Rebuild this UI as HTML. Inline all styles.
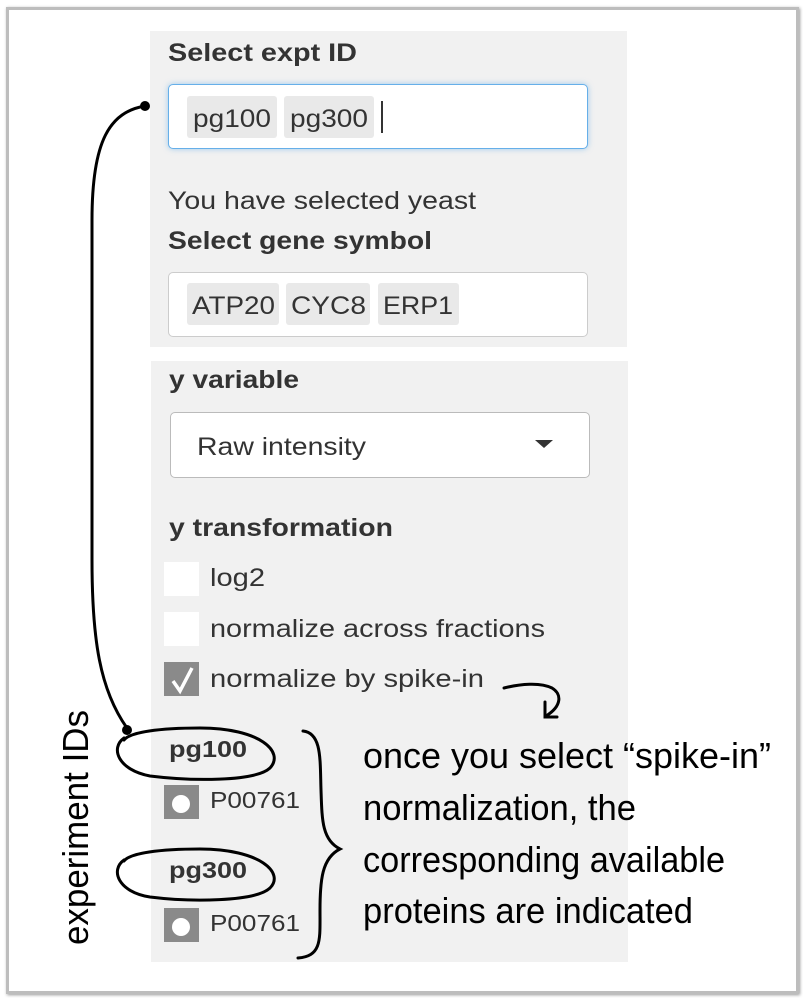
<!DOCTYPE html>
<html><head><style>
body{margin:0;width:803px;height:998px;background:#fff;position:relative;overflow:hidden;font-family:"Liberation Sans",Arial,sans-serif;color:#333}
.a{position:absolute}
.frame{left:6px;top:7px;width:787px;height:981px;border:3px solid #bdbdbd;box-shadow:1px 1px 3px #999}
.panel{background:#f1f1f1}
.inp{background:#fff;border:1px solid #ccc;border-radius:5px;box-sizing:border-box}
.tag{background:#e9e9e9;border-radius:3px}
.cb{width:35px;height:34px;background:#fff}
</style></head><body>
<div class="a frame"></div>
<div class="a panel" style="left:150px;top:31px;width:477px;height:316px"></div>
<div class="a panel" style="left:151px;top:361px;width:477px;height:601px"></div>

<div class="a inp" style="left:168px;top:84px;width:420px;height:65px;border:1px solid #66afe9;box-shadow:0 0 6px rgba(102,175,233,.6)"></div>
<div class="a tag" style="left:187px;top:96px;width:90px;height:42px"></div>
<div class="a tag" style="left:284px;top:96px;width:90px;height:42px"></div>
<div class="a" style="left:381px;top:101px;width:2px;height:32px;background:#333"></div>

<div class="a inp" style="left:168px;top:272px;width:420px;height:65px"></div>
<div class="a tag" style="left:187px;top:283px;width:92px;height:42px"></div>
<div class="a tag" style="left:286px;top:283px;width:84px;height:42px"></div>
<div class="a tag" style="left:378px;top:283px;width:81px;height:42px"></div>

<div class="a inp" style="left:170px;top:412px;width:420px;height:66px;border-color:#bbb"></div>
<div class="a" style="left:535px;top:440px;width:0;height:0;border-left:9px solid transparent;border-right:9px solid transparent;border-top:8px solid #333"></div>

<div class="a cb" style="left:164px;top:562px"></div>
<div class="a cb" style="left:164px;top:612px"></div>
<div class="a cb" style="left:164px;top:662px;background:#8a8a8a"></div>
<svg class="a" style="left:164px;top:662px" width="35" height="34"><path d="M9 19 L16 29 L28 6" stroke="#fff" stroke-width="3.5" fill="none"/></svg>
<div class="a cb" style="left:164px;top:785px;background:#8a8a8a"></div>
<div class="a" style="left:172px;top:795px;width:18px;height:18px;border-radius:50%;background:#fff"></div>
<div class="a cb" style="left:164px;top:908px;background:#8a8a8a"></div>
<div class="a" style="left:172px;top:918px;width:18px;height:18px;border-radius:50%;background:#fff"></div>

<svg class="a" style="left:0;top:0" width="803" height="998">
<g font-family="'Liberation Sans',Arial,sans-serif" fill="#333" font-size="25" lengthAdjust="spacingAndGlyphs">
<text x="168" y="61" font-weight="bold" textLength="189" lengthAdjust="spacingAndGlyphs">Select expt ID</text>
<text x="193" y="127" textLength="78" lengthAdjust="spacingAndGlyphs">pg100</text>
<text x="290" y="127" textLength="78" lengthAdjust="spacingAndGlyphs">pg300</text>
<text x="168" y="209" textLength="308" lengthAdjust="spacingAndGlyphs">You have selected yeast</text>
<text x="168" y="249" font-weight="bold" textLength="264" lengthAdjust="spacingAndGlyphs">Select gene symbol</text>
<text x="192" y="314" textLength="83" lengthAdjust="spacingAndGlyphs">ATP20</text>
<text x="291" y="314" textLength="75" lengthAdjust="spacingAndGlyphs">CYC8</text>
<text x="383" y="314" textLength="70" lengthAdjust="spacingAndGlyphs">ERP1</text>
<text x="169" y="388" font-weight="bold" textLength="130" lengthAdjust="spacingAndGlyphs">y variable</text>
<text x="197" y="455" textLength="169" lengthAdjust="spacingAndGlyphs">Raw intensity</text>
<text x="169" y="536" font-weight="bold" textLength="224" lengthAdjust="spacingAndGlyphs">y transformation</text>
<text x="210" y="586" textLength="55" lengthAdjust="spacingAndGlyphs">log2</text>
<text x="210" y="637" textLength="335" lengthAdjust="spacingAndGlyphs">normalize across fractions</text>
<text x="210" y="687" textLength="274" lengthAdjust="spacingAndGlyphs">normalize by spike-in</text>
<text x="169" y="757" font-weight="bold" textLength="78" lengthAdjust="spacingAndGlyphs" font-size="23">pg100</text>
<text x="210" y="808" textLength="90" lengthAdjust="spacingAndGlyphs" font-size="23">P00761</text>
<text x="169" y="878" font-weight="bold" textLength="78" lengthAdjust="spacingAndGlyphs" font-size="23">pg300</text>
<text x="210" y="931" textLength="90" lengthAdjust="spacingAndGlyphs" font-size="23">P00761</text>
</g>
<g fill="none" stroke="#000" stroke-width="3" stroke-linecap="round">
<path d="M145 106 C110 112 92 140 92 220 L92 560 C92 640 100 690 127 728"/>
<path d="M124 738 C110 748 118 770 150 776 C190 781 255 782 270 768 C285 752 260 728 200 728 C160 728 130 732 124 740"/>
<path d="M124 860 C110 870 118 892 150 897 C190 902 255 902 270 888 C285 873 260 849 200 849 C160 849 130 853 124 861"/>
<path d="M303 731 C322 733 320 760 321 790 C322 820 322 840 340 849 C322 858 320 880 320 910 C320 940 322 956 298 958"/>
<path d="M504 688 C520 684 540 682 552 688 C562 694 562 706 546 716"/>
<path d="M545 702 L545 717 L557 717"/>
</g>
<circle cx="145" cy="106" r="5" fill="#000"/>
<circle cx="127" cy="730" r="5" fill="#000"/>
<g font-family="'Liberation Sans Narrow','Liberation Sans',sans-serif" font-size="36" fill="#000">
<text x="363" y="768" textLength="408" lengthAdjust="spacingAndGlyphs">once you select “spike-in”</text>
<text x="363" y="820" textLength="273" lengthAdjust="spacingAndGlyphs">normalization, the</text>
<text x="363" y="872" textLength="362" lengthAdjust="spacingAndGlyphs">corresponding available</text>
<text x="363" y="923" textLength="330" lengthAdjust="spacingAndGlyphs">proteins are indicated</text>
<text transform="translate(88 945) rotate(-90)" textLength="235" lengthAdjust="spacingAndGlyphs">experiment IDs</text>
</g>
</svg>
</body></html>
